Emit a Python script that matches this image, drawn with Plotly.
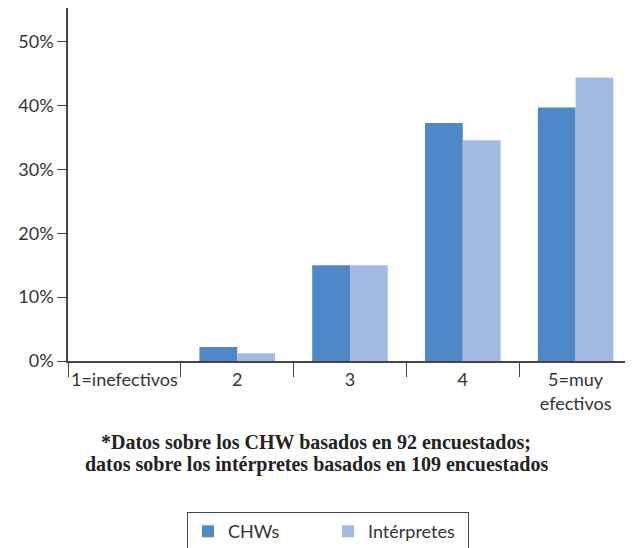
import plotly.graph_objects as go

categories = ["1=inefectivos", "2", "3", "4", "5=muy<br>efectivos"]
chw_values = [0, 2.2, 15.0, 37.3, 39.7]
interp_values = [0, 1.2, 15.0, 34.6, 44.4]
series_names = ["CHWs", "Intérpretes"]
y_ticks = [0, 10, 20, 30, 40, 50]
y_tick_labels = ["0%", "10%", "20%", "30%", "40%", "50%"]
footnote_lines = ["*Datos sobre los CHW basados en 92 encuestados;",
                  "datos sobre los intérpretes basados en 109 encuestados"]

axis_color = "#444444"
text_color = "#333333"
sans = "Lato, sans-serif"

fig = go.Figure()
fig.add_trace(go.Bar(x=categories, y=chw_values, name=series_names[0],
                     marker=dict(color="#4F88C6", line=dict(width=0))))
fig.add_trace(go.Bar(x=categories, y=interp_values, name=series_names[1],
                     marker=dict(color="#A3BBE3", line=dict(width=0))))

fig.update_layout(
    width=633, height=548,
    margin=dict(l=60, r=9, t=0, b=195, autoexpand=False),
    paper_bgcolor="white", plot_bgcolor="white",
    barmode="group", bargap=0.33, bargroupgap=0,
    font=dict(family=sans, size=18, color=text_color),
    showlegend=True,
    legend=dict(orientation="h", x=0.461, xanchor="center", y=-0.428, yanchor="top",
                bordercolor=axis_color, borderwidth=1, font=dict(size=18, color=text_color),
                entrywidth=95, traceorder="normal"),
    xaxis=dict(type="category", tickson="boundaries", ticks="outside", ticklen=14,
               tickwidth=1.2, tickcolor=axis_color, showline=True, linecolor=axis_color,
               linewidth=1.5, showgrid=False, tickfont=dict(size=18, color=text_color),
               tickangle=0, automargin=False, ticklabelstandoff=2, range=[-0.5, 4.5]),
    yaxis=dict(range=[0, 55.3], tickvals=y_ticks, ticktext=y_tick_labels,
               ticks="outside", ticklen=9, tickwidth=1.2, tickcolor=axis_color,
               showline=True, linecolor=axis_color, linewidth=1.5, showgrid=False,
               zeroline=False, automargin=False, tickfont=dict(size=18, color=text_color)),
)

for line, ypos in zip(footnote_lines, [-0.2295, -0.2946]):
    fig.add_annotation(text=line, xref="paper", yref="paper", x=0.4406, y=ypos,
                       xanchor="center", yanchor="middle", showarrow=False,
                       font=dict(family="Liberation Serif, serif", size=20,
                                 color="#222222", weight="bold"))

fig.write_html("out.html")
